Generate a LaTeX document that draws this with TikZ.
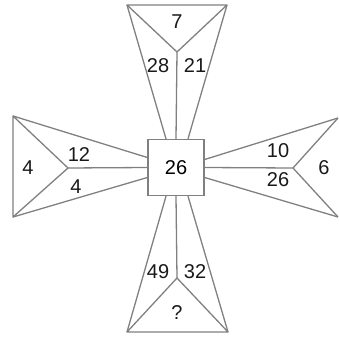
\documentclass[tikz,border=0pt]{standalone}
\usepackage{fontspec}
\setmainfont{Liberation Sans}
\usepackage{tikz}

\begin{document}
\begin{tikzpicture}[
    x=1pt, y=-1pt,
    edge/.style={draw=black!50, line width=1.3pt, line join=round},
    sq/.style={draw=black!50, line width=1.3pt, minimum size=56pt, inner sep=0pt, font=\fontsize{20}{22}\selectfont},
    num/.style={inner sep=0pt, font=\fontsize{20}{22}\selectfont, text=black!90}
]
\useasboundingbox (0,0) rectangle (338,339);
\node[sq] (mid) at (176,167.5) {26};
% top arm
\coordinate (topl) at (127,5);
\coordinate (topr) at (227,5);
\coordinate (topj) at (177,52);
% left arm
\coordinate (leftt) at (13,116);
\coordinate (leftb) at (13,217);
\coordinate (leftj) at (68,168);
% right arm
\coordinate (rightt) at (338,118);
\coordinate (rightb) at (338,217);
\coordinate (rightj) at (293,168);
% bottom arm
\coordinate (botl) at (127,332);
\coordinate (botr) at (228,332);
\coordinate (botj) at (177,278);

\draw[edge] (topl) -- (topr) -- (topj) -- cycle;
\draw[edge] (topj) -- (mid.north);
\draw[edge] (topl) -- ([xshift=-10pt]mid.north);
\draw[edge] (topr) -- ([xshift=12pt]mid.north);

\draw[edge] (leftt) -- (leftb) -- (leftj) -- cycle;
\draw[edge] (leftj) -- (mid.west);
\draw[edge] (leftt) -- ([yshift=10pt]mid.west);
\draw[edge] (leftb) -- ([yshift=-10pt]mid.west);

\draw[edge] (rightt) -- (rightj) -- (rightb);
\draw[edge] (rightj) -- (mid.east);
\draw[edge] (rightt) -- ([yshift=8pt]mid.east);
\draw[edge] (rightb) -- ([yshift=-10pt]mid.east);

\draw[edge] (botl) -- (botr) -- (botj) -- cycle;
\draw[edge] (botj) -- (mid.south);
\draw[edge] (botl) -- ([xshift=-10pt]mid.south);
\draw[edge] (botr) -- ([xshift=12pt]mid.south);

\node[num] (ttop) at (177,22) {7};
\node[num] (tl) at (158,66) {28};
\node[num] (tr) at (195,66) {21};
\node[num] (lout) at (28,168) {4};
\node[num] (lup) at (79,155) {12};
\node[num] (llow) at (76,187) {4};
\node[num] (rup) at (278,151) {10};
\node[num] (rlow) at (278,180) {26};
\node[num] (rout) at (324,168) {6};
\node[num] (bl) at (158,272) {49};
\node[num] (br) at (195,272) {32};
\node[num] (bq) at (177,313) {?};
\end{tikzpicture}
\end{document}
